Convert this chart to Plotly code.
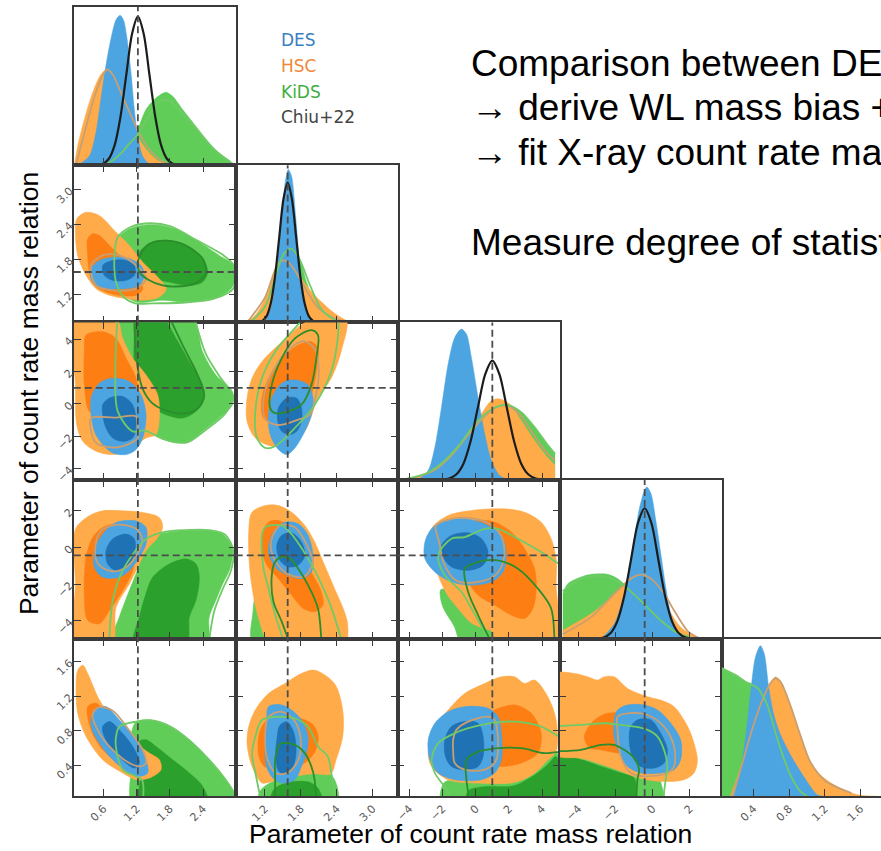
import plotly.graph_objects as go

# ---------------------------------------------------------------- layout grid
FIG_W, FIG_H = 881, 851
COL_EDGES = [71, 233.5, 396, 558.5, 721, 883.5]
ROW_EDGES = [7, 166, 324, 482, 642, 800]

# ---------------------------------------------------------------- parameters
PARAM_RANGES = [(0.06, 2.99), (0.71, 3.42), (-4.7, 5.05), (-5.0, 3.7), (0.04, 1.86)]
TICK_VALUES = [[0.6, 1.2, 1.8, 2.4], [1.2, 1.8, 2.4, 3.0], [-4, -2, 0, 2, 4], [-4, -2, 0, 2], [0.4, 0.8, 1.2, 1.6]]
TICK_TEXT = [["0.6", "1.2", "1.8", "2.4"], ["1.2", "1.8", "2.4", "3.0"], ["\u22124", "\u22122", "0", "2", "4"],
             ["\u22124", "\u22122", "0", "2"], ["0.4", "0.8", "1.2", "1.6"]]
TRUTH = [1.22, 1.58, 1.0, -0.43, None]

SERIES = ["DES", "HSC", "KiDS", "Chiu+22"]

# ---------------------------------------------------------------- 1D marginals (x, normalised density)
P1_KIDS = [(0.58, 0.0), (0.885, 0.057), (1.187, 0.204), (1.367, 0.352), (1.548, 0.425), (1.729, 0.461), (1.849, 0.436),
           (2.03, 0.352), (2.27, 0.246), (2.51, 0.141), (2.75, 0.057), (2.93, 0.015), (2.99, 0.0)]
P1_HSC = [(0.07, 0.0), (0.13, 0.12), (0.25, 0.288), (0.40, 0.457), (0.55, 0.573), (0.67, 0.608), (0.765, 0.583),
          (0.885, 0.457), (1.066, 0.288), (1.247, 0.162), (1.427, 0.078), (1.608, 0.025), (1.789, 0.0)]
P1_DES = [(0.13, 0.0), (0.34, 0.057), (0.46, 0.204), (0.55, 0.415), (0.64, 0.625), (0.73, 0.794), (0.825, 0.92),
          (0.897, 0.947), (0.958, 0.92), (1.018, 0.815), (1.096, 0.583), (1.156, 0.352), (1.217, 0.183),
          (1.307, 0.057), (1.427, 0.008), (1.548, 0.0)]
P1_HSC_LINE = [(0.1, 0.0), (0.25, 0.2), (0.45, 0.45), (0.6, 0.58), (0.67, 0.605), (0.77, 0.57), (0.9, 0.47),
               (1.05, 0.35), (1.22, 0.22), (1.4, 0.11), (1.6, 0.04), (1.8, 0.0)]
P1_KIDS_LINE = [(0.6, 0.0), (0.7, 0.015), (0.9, 0.07), (1.05, 0.13), (1.217, 0.194), (1.4, 0.3), (1.6, 0.4),
                (1.78, 0.41), (2.0, 0.34), (2.3, 0.22), (2.6, 0.1), (2.9, 0.02)]
P1_CHIU = [(0.3, 0.0), (0.51, 0.003), (0.59, 0.010), (0.695, 0.041), (0.8, 0.127), (0.905, 0.305), (1.01, 0.57),
           (1.115, 0.83), (1.22, 0.94), (1.325, 0.83), (1.43, 0.57), (1.535, 0.305), (1.64, 0.127),
           (1.745, 0.041), (1.85, 0.010), (1.93, 0.003), (2.2, 0.0)]

P2_KIDS = [(0.928, 0.0), (1.149, 0.059), (1.314, 0.195), (1.452, 0.363), (1.59, 0.447), (1.673, 0.468),
           (1.783, 0.405), (1.894, 0.258), (2.032, 0.132), (2.197, 0.048), (2.363, 0.006), (2.45, 0.0)]
P2_HSC = [(0.76, 0.0), (0.983, 0.027), (1.149, 0.111), (1.314, 0.279), (1.425, 0.374), (1.535, 0.405),
          (1.673, 0.374), (1.811, 0.279), (1.977, 0.195), (2.142, 0.132), (2.363, 0.059), (2.584, 0.01), (2.804, 0.0)]
P2_DES = [(1.204, 0.0), (1.314, 0.111), (1.397, 0.363), (1.48, 0.679), (1.546, 0.91), (1.59, 0.973),
          (1.645, 0.93), (1.712, 0.679), (1.783, 0.363), (1.866, 0.132), (1.949, 0.017), (2.032, 0.0)]
P2_HSC_LINE = [(0.9, 0.0), (1.2, 0.16), (1.4, 0.36), (1.5, 0.395), (1.6, 0.38), (1.72, 0.32), (1.9, 0.2),
               (2.1, 0.09), (2.4, 0.02), (2.7, 0.0)]
P2_KIDS_LINE = [(0.95, 0.0), (1.2, 0.1), (1.38, 0.3), (1.52, 0.44), (1.64, 0.47), (1.78, 0.4), (1.95, 0.24),
                (2.15, 0.08), (2.4, 0.01), (2.6, 0.0)]
P2_CHIU = [(0.9, 0.0), (1.08, 0.002), (1.154, 0.01), (1.225, 0.039), (1.296, 0.12), (1.367, 0.289), (1.438, 0.54),
           (1.509, 0.785), (1.58, 0.89), (1.651, 0.785), (1.722, 0.54), (1.793, 0.289), (1.864, 0.12),
           (1.935, 0.039), (2.006, 0.01), (2.08, 0.002), (2.4, 0.0)]

P3_KIDS = [(-4.46, 0.0), (-2.66, 0.049), (-1.66, 0.133), (-0.66, 0.26), (0.34, 0.397), (1.14, 0.461), (1.94, 0.478),
           (2.74, 0.429), (3.54, 0.334), (4.34, 0.218), (4.78, 0.165)]
P3_HSC = [(-4.46, 0.0), (-2.66, 0.038), (-1.66, 0.123), (-0.66, 0.249), (0.34, 0.419), (0.94, 0.503), (1.44, 0.514),
          (2.04, 0.482), (2.74, 0.376), (3.54, 0.249), (4.14, 0.165), (4.78, 0.09)]
P3_DES = [(-3.46, 0.0), (-2.86, 0.059), (-2.46, 0.207), (-2.06, 0.461), (-1.66, 0.736), (-1.26, 0.905),
          (-0.86, 0.958), (-0.56, 0.926), (-0.26, 0.778), (0.14, 0.524), (0.54, 0.292), (0.94, 0.123),
          (1.44, 0.027), (1.94, 0.0)]
P3_HSC_LINE = [(-4.46, 0.0), (-3.5, 0.02), (-2.5, 0.06), (-1.5, 0.15), (-0.5, 0.28), (0.5, 0.4), (1.2, 0.46),
               (1.9, 0.47), (2.6, 0.42), (3.4, 0.3), (4.2, 0.18), (4.78, 0.12)]
P3_KIDS_LINE = [(-4.46, 0.0), (-3.0, 0.04), (-2.0, 0.11), (-1.0, 0.22), (0.0, 0.36), (1.0, 0.45), (1.9, 0.475),
                (2.74, 0.43), (3.54, 0.335), (4.34, 0.22), (4.78, 0.165)]
P3_CHIU = [(-4.0, 0.0), (-2.0, 0.002), (-1.61, 0.008), (-1.175, 0.033), (-0.74, 0.102), (-0.305, 0.246),
           (0.13, 0.459), (0.565, 0.668), (1.0, 0.757), (1.435, 0.668), (1.87, 0.459), (2.305, 0.246),
           (2.74, 0.102), (3.175, 0.033), (3.61, 0.008), (4.0, 0.002), (4.8, 0.0)]

P4_KIDS = [(-4.83, 0.284), (-4.56, 0.347), (-3.85, 0.389), (-3.31, 0.406), (-2.42, 0.406), (-1.89, 0.379),
           (-1.35, 0.326), (-0.64, 0.242), (0.256, 0.137), (1.15, 0.053), (1.86, 0.011), (2.2, 0.0)]
P4_HSC = [(-4.83, 0.053), (-4.21, 0.095), (-3.31, 0.158), (-2.42, 0.242), (-1.71, 0.326), (-0.99, 0.389),
          (-0.64, 0.40), (-0.28, 0.389), (0.256, 0.326), (0.79, 0.2), (1.51, 0.074), (2.22, 0.021), (2.93, 0.0)]
P4_DES = [(-2.78, 0.0), (-2.065, 0.095), (-1.53, 0.284), (-1.08, 0.558), (-0.73, 0.81), (-0.46, 0.926),
          (-0.316, 0.954), (-0.1, 0.916), (0.166, 0.747), (0.434, 0.537), (0.70, 0.326), (0.97, 0.158),
          (1.326, 0.042), (1.68, 0.0)]
P4_HSC_LINE = [(-4.83, 0.03), (-3.31, 0.137), (-2.06, 0.284), (-1.17, 0.379), (-0.64, 0.404), (-0.1, 0.379),
               (0.62, 0.284), (1.15, 0.179), (1.86, 0.053), (2.4, 0.01)]
P4_KIDS_LINE = [(-4.83, 0.3), (-4.0, 0.37), (-3.3, 0.395), (-2.42, 0.39), (-1.71, 0.35), (-1.0, 0.28),
                (-0.3, 0.2), (0.5, 0.11), (1.3, 0.04), (2.0, 0.01)]
P4_CHIU = [(-4.8, 0.0), (-3.03, 0.002), (-2.635, 0.009), (-2.268, 0.036), (-1.9, 0.111), (-1.533, 0.267),
           (-1.165, 0.498), (-0.798, 0.725), (-0.43, 0.821), (-0.062, 0.725), (0.305, 0.498), (0.673, 0.267),
           (1.04, 0.111), (1.408, 0.036), (1.775, 0.009), (2.17, 0.002), (3.5, 0.0)]

P5_KIDS = [(0.045, 0.819), (0.178, 0.777), (0.29, 0.734), (0.383, 0.713), (0.477, 0.649), (0.589, 0.50),
           (0.70, 0.287), (0.812, 0.138), (0.924, 0.053), (1.036, 0.011), (1.111, 0.0)]
P5_HSC = [(0.14, 0.0), (0.253, 0.181), (0.365, 0.394), (0.477, 0.585), (0.589, 0.713), (0.645, 0.76), (0.70, 0.734),
          (0.812, 0.585), (0.924, 0.394), (1.036, 0.223), (1.148, 0.138), (1.297, 0.074), (1.447, 0.032),
          (1.596, 0.006), (1.782, 0.0)]
P5_DES = [(0.178, 0.0), (0.253, 0.16), (0.309, 0.372), (0.365, 0.649), (0.42, 0.883), (0.477, 0.957),
          (0.521, 0.904), (0.57, 0.691), (0.626, 0.521), (0.70, 0.394), (0.812, 0.266), (0.924, 0.16),
          (1.036, 0.064), (1.111, 0.011), (1.167, 0.0)]
P5_HSC_LINE = [(0.16, 0.0), (0.253, 0.17), (0.365, 0.39), (0.477, 0.58), (0.59, 0.72), (0.64, 0.75), (0.7, 0.73),
               (0.812, 0.58), (0.924, 0.39), (1.036, 0.22), (1.2, 0.1), (1.5, 0.02)]
P5_KIDS_LINE = [(0.05, 0.81), (0.2, 0.77), (0.33, 0.72), (0.44, 0.69), (0.55, 0.585), (0.663, 0.372),
                (0.74, 0.24), (0.812, 0.138), (0.924, 0.032), (1.0, 0.0)]

# ---------------------------------------------------------------- 2D contours (outer = 95%, inner = 68%)
# row 2 / col 1
C21_KIDS_OUT = [(0.855, 2.151), (1.066, 2.322), (1.367, 2.391), (1.668, 2.379), (1.97, 2.294), (2.331, 2.093),
                (2.692, 1.865), (2.946, 1.693), (2.946, 1.35), (2.753, 1.179), (2.391, 1.093), (2.03, 1.064),
                (1.668, 1.093), (1.187, 1.064), (0.946, 1.236), (0.825, 1.693)]
C21_KIDS_IN = [(1.247, 1.922), (1.488, 2.093), (1.789, 2.122), (2.09, 2.036), (2.391, 1.808), (2.482, 1.579),
               (2.391, 1.407), (2.15, 1.35), (1.789, 1.407), (1.548, 1.465), (1.307, 1.579), (1.217, 1.75)]
C21_HSC_OUT = [(0.09, 2.265), (0.114, 2.494), (0.283, 2.608), (0.524, 2.551), (0.825, 2.265), (1.066, 2.036),
               (1.307, 1.75), (1.548, 1.522), (1.729, 1.293), (1.608, 1.15), (1.307, 1.093), (1.006, 1.122),
               (0.705, 1.179), (0.464, 1.293), (0.283, 1.522), (0.132, 1.865)]
C21_HSC_IN = [(0.313, 2.151), (0.403, 2.237), (0.524, 2.208), (0.705, 2.036), (0.946, 1.808), (1.187, 1.522),
              (1.307, 1.293), (1.187, 1.179), (0.885, 1.179), (0.644, 1.236), (0.433, 1.35), (0.343, 1.579),
              (0.313, 1.865)]
C21_DES_OUT = [(0.373, 1.636), (0.524, 1.779), (0.765, 1.836), (1.066, 1.808), (1.277, 1.693), (1.337, 1.522),
               (1.247, 1.35), (1.006, 1.293), (0.705, 1.293), (0.464, 1.35), (0.373, 1.465)]
C21_DES_IN = [(0.584, 1.693), (0.765, 1.779), (1.006, 1.779), (1.156, 1.693), (1.156, 1.522), (1.006, 1.436),
              (0.765, 1.436), (0.614, 1.522)]
C21_HSC_LINE = [(0.373, 1.693), (0.584, 1.865), (0.885, 1.865), (1.187, 1.693), (1.367, 1.465), (1.187, 1.293),
                (0.765, 1.264), (0.464, 1.35)]
C21_KIDS_LINE_OUT = [(0.855, 2.18), (1.1, 2.36), (1.45, 2.42), (1.8, 2.37), (2.3, 2.12), (2.75, 1.88), (2.95, 1.7),
                     (2.95, 1.3), (2.6, 1.12), (2.0, 1.05), (1.5, 1.04), (1.187, 1.036), (0.96, 1.15),
                     (0.825, 1.407), (0.795, 1.808)]
C21_KIDS_LINE_IN = [(1.217, 1.75), (1.4, 2.05), (1.75, 2.12), (2.1, 2.03), (2.4, 1.8), (2.45, 1.55), (2.25, 1.38),
                    (1.9, 1.33), (1.668, 1.35), (1.4, 1.45), (1.25, 1.58)]

# row 3 / col 1
C31_KIDS_OUT = [(0.855, 5.3), (2.2, 5.3), (2.39, 3.24), (2.63, 1.8), (2.93, 0.77), (2.93, -0.05), (2.69, -0.88),
                (2.39, -1.7), (2.15, -2.32), (1.91, -2.42), (1.608, -2.1), (1.37, -1.6), (1.1, -0.5), (0.9, 1.5),
                (0.82, 4.0)]
C31_KIDS_IN = [(1.187, 5.3), (1.668, 5.3), (1.91, 4.06), (2.15, 2.62), (2.391, 1.18), (2.42, 0.36), (2.27, -0.46),
               (2.03, -0.876), (1.729, -0.67), (1.427, -0.05), (1.247, 0.77), (1.156, 2.21), (1.156, 4.06)]
C31_HSC_OUT = [(0.09, 5.3), (0.825, 5.3), (0.946, 4.06), (1.126, 2.83), (1.367, 1.8), (1.578, 0.564),
               (1.608, -0.876), (1.548, -1.9), (1.367, -2.11), (1.187, -2.52), (1.006, -2.93), (0.765, -3.14),
               (0.464, -2.93), (0.223, -2.32), (0.114, -1.29), (0.09, 1.18)]
C31_HSC_IN = [(0.283, 4.27), (0.584, 4.47), (0.825, 4.06), (1.006, 2.83), (1.187, 1.59), (1.217, 0.36),
              (1.126, -0.876), (0.885, -0.9), (0.584, -0.9), (0.343, -0.46), (0.253, 1.18), (0.253, 3.24)]
C31_DES_OUT = [(0.373, 0.36), (0.524, 1.285), (0.765, 1.59), (1.066, 1.387), (1.277, 0.564), (1.367, -0.67),
               (1.307, -2.11), (1.187, -2.83), (1.006, -3.14), (0.765, -3.04), (0.584, -2.52), (0.433, -1.7)]
C31_DES_IN = [(0.584, -0.053), (0.705, 0.36), (0.946, 0.462), (1.126, -0.053), (1.187, -1.29), (1.126, -2.11),
              (0.946, -2.32), (0.765, -2.11), (0.644, -1.49), (0.584, -0.67)]
C31_HSC_LINE = [(0.373, -0.876), (0.8, -0.85), (1.187, -0.77), (1.217, -1.4), (1.217, -2.11), (0.855, -2.69),
                (0.464, -2.42), (0.373, -1.7)]
C31_KIDS_LINE_OUT = [(0.85, 5.3), (0.813, 2.21), (0.855, -0.46), (1.126, -1.7), (1.35, -1.65), (1.7, -2.2),
                     (2.1, -2.4), (2.45, -1.6), (2.8, -0.6), (2.95, 0.4), (2.7, 1.7), (2.45, 3.1), (2.25, 5.3)]
C31_KIDS_LINE_IN = [(1.16, 5.3), (1.187, 3.0), (1.3, 1.0), (1.48, 0.05), (1.73, -0.4), (2.03, -0.6), (2.3, -0.3),
                    (2.42, 0.5), (2.3, 1.8), (2.05, 3.5), (1.8, 5.3)]

# row 4 / col 1
C41_KIDS_OUT = [(1.307, 0.37), (1.608, 0.73), (2.03, 0.91), (2.51, 0.91), (2.753, 0.73), (2.93, 0.0), (2.93, -0.54),
                (2.873, -1.26), (2.753, -1.99), (2.63, -2.89), (2.51, -3.8), (2.45, -5.3), (0.75, -5.3),
                (0.885, -3.8), (1.066, -2.35), (1.247, -0.9)]
C41_KIDS_IN = [(1.488, -1.63), (1.789, -0.9), (2.09, -0.63), (2.27, -0.9), (2.331, -1.63), (2.27, -2.89),
               (2.15, -3.8), (2.09, -5.3), (1.15, -5.3), (1.247, -3.8), (1.367, -2.53)]
C41_HSC_OUT = [(0.09, 1.0), (0.343, 1.73), (0.584, 2.0), (0.946, 2.0), (1.307, 1.91), (1.608, 1.63), (1.668, 1.09),
               (1.578, 0.55), (1.367, -0.18), (1.247, -0.9), (1.066, -1.99), (0.825, -3.26), (0.75, -5.3),
               (0.09, -5.3), (0.09, -2.0)]
C41_HSC_IN = [(0.283, -0.54), (0.403, 0.55), (0.584, 1.09), (0.825, 1.27), (1.066, 0.91), (1.187, 0.19),
              (1.126, -1.26), (0.946, -2.35), (0.705, -3.44), (0.524, -4.16), (0.313, -3.98), (0.253, -2.71)]
C41_DES_OUT = [(0.433, -0.18), (0.584, 0.73), (0.825, 1.36), (1.187, 1.45), (1.367, 1.09), (1.367, 0.19),
               (1.247, -0.54), (1.066, -1.26), (0.885, -1.63), (0.584, -1.63), (0.433, -1.08)]
C41_DES_IN = [(0.644, -0.18), (0.765, 0.46), (1.006, 0.73), (1.156, 0.46), (1.156, -0.36), (1.006, -1.08),
              (0.825, -1.26), (0.674, -0.9)]
C41_HSC_LINE = [(0.45, 0.0), (0.55, 0.9), (0.85, 1.25), (1.2, 1.0), (1.3, 0.4), (1.2, -0.4), (1.0, -1.1),
                (0.75, -1.3), (0.5, -0.9)]
C41_KIDS_LINE_OUT = [(0.70, -5.3), (0.705, -4.89), (0.765, -2.89), (0.946, -1.26), (1.367, 0.46), (1.7, 0.85),
                     (2.1, 0.95), (2.5, 0.95), (2.8, 0.7), (2.95, -0.2), (2.9, -1.3), (2.75, -2.3), (2.6, -3.5),
                     (2.5, -5.3)]

# row 5 / col 1
C51_KIDS_OUT = [(1.1, 0.75), (1.187, 0.9), (1.427, 0.923), (1.789, 0.846), (2.15, 0.693), (2.51, 0.462),
                (2.813, 0.232), (2.963, 0.078), (2.97, -0.1), (1.15, -0.1), (1.1, 0.4)]
C51_KIDS_IN = [(1.247, 0.673), (1.367, 0.693), (1.548, 0.616), (1.849, 0.462), (2.15, 0.309), (2.391, 0.155),
               (2.5, -0.1), (1.3, -0.1), (1.277, 0.385)]
C51_HSC_OUT = [(0.132, 1.499), (0.223, 1.557), (0.313, 1.46), (0.524, 1.153), (0.825, 0.885), (1.187, 0.654),
               (1.427, 0.539), (1.608, 0.462), (1.638, 0.347), (1.427, 0.251), (1.187, 0.232), (0.946, 0.309),
               (0.584, 0.462), (0.283, 0.731), (0.132, 1.0), (0.102, 1.307)]
C51_HSC_IN = [(0.313, 1.077), (0.464, 1.115), (0.705, 0.961), (0.946, 0.808), (1.187, 0.616), (1.247, 0.462),
              (1.126, 0.385), (0.885, 0.424), (0.584, 0.577), (0.373, 0.808)]
C51_DES_OUT = [(0.373, 0.923), (0.464, 1.057), (0.644, 1.077), (0.885, 0.923), (1.187, 0.693), (1.367, 0.462),
               (1.397, 0.309), (1.247, 0.27), (1.066, 0.309), (0.765, 0.462), (0.524, 0.654), (0.391, 0.808)]
C51_DES_IN = [(0.584, 0.846), (0.705, 0.904), (0.885, 0.808), (1.126, 0.616), (1.247, 0.424), (1.156, 0.366),
              (1.006, 0.424), (0.765, 0.577), (0.614, 0.731)]
C51_HSC_LINE = [(0.4, 0.99), (0.52, 1.07), (0.765, 1.03), (1.066, 0.8), (1.307, 0.577), (1.367, 0.424),
                (1.247, 0.385), (1.066, 0.424), (0.765, 0.577), (0.524, 0.77)]
C51_KIDS_LINE_OUT = [(1.3, -0.1), (1.3, 0.22), (1.187, 0.27), (0.946, 0.347), (0.825, 0.6), (0.825, 0.731),
                     (0.885, 0.846), (1.187, 0.904), (1.45, 0.92), (1.8, 0.85), (2.15, 0.69), (2.5, 0.47),
                     (2.8, 0.24), (2.96, 0.08), (3.1, -0.1)]

# row 3 / col 2
C32_HSC_OUT = [(2.1, 5.3), (2.556, 5.3), (2.473, 3.24), (2.308, 1.59), (2.087, 0.36), (1.866, -1.7), (1.59, -2.52),
               (1.314, -2.62), (1.038, -2.11), (0.9, -1.08), (0.9, 0.36), (0.983, 1.59), (1.148, 2.62),
               (1.425, 3.65), (1.85, 5.0)]
C32_HSC_IN = [(1.149, 0.36), (1.259, 1.59), (1.48, 2.83), (1.756, 3.65), (1.977, 3.86), (2.087, 3.44), (2.059, 2.0),
              (1.977, 0.564), (1.866, -0.46), (1.701, -1.29), (1.425, -1.29), (1.176, -0.876)]
C32_DES_OUT = [(1.314, 0.36), (1.48, 1.285), (1.701, 1.49), (1.921, 1.18), (2.004, 0.36), (1.977, -0.67),
               (1.866, -1.7), (1.701, -2.73), (1.563, -3.14), (1.425, -2.83), (1.287, -1.9), (1.259, -0.67)]
C32_DES_IN = [(1.425, -0.26), (1.563, 0.36), (1.728, 0.36), (1.811, -0.26), (1.811, -1.08), (1.728, -1.7),
              (1.618, -1.9), (1.48, -1.7), (1.414, -1.08)]
C32_HSC_LINE = [(1.2, -0.9), (1.37, -1.29), (1.535, -1.25), (1.756, -0.98), (1.95, -0.67), (2.05, 0.5),
                (2.1, 2.0), (2.05, 3.3), (1.85, 3.9), (1.55, 3.2), (1.3, 1.8), (1.18, 0.4)]
C32_KIDS_LINE_OUT = [(1.85, 5.3), (1.645, 4.47), (1.369, 3.24), (1.149, 1.59), (1.038, -0.46), (1.066, -2.11),
                     (1.204, -2.73), (1.369, -2.62), (1.701, -1.49), (2.032, -0.05), (2.308, 2.0), (2.418, 4.06),
                     (2.43, 5.3)]
C32_KIDS_LINE_IN = [(1.287, -0.26), (1.314, 1.18), (1.48, 2.83), (1.701, 4.06), (1.977, 4.58), (2.087, 4.27),
                    (2.059, 2.83), (1.977, 1.18), (1.811, -0.05), (1.59, -0.46), (1.369, -0.57)]

# row 4 / col 2
C42_KIDS_OUT = [(1.04, -2.6), (1.15, -2.0), (1.4, -2.2), (1.7, -3.5), (1.8, -5.3), (1.0, -5.3), (1.0, -3.5)]
C42_HSC_OUT = [(0.983, 1.92), (1.204, 2.29), (1.425, 2.29), (1.646, 1.92), (1.866, 1.2), (2.032, 0.29),
               (2.197, -0.97), (2.363, -2.24), (2.529, -3.51), (2.584, -4.23), (2.53, -5.3), (1.3, -5.3),
               (1.094, -3.87), (0.956, -1.52), (0.928, 0.84)]
C42_HSC_IN = [(1.149, 0.66), (1.259, 1.38), (1.425, 1.47), (1.646, 1.02), (1.811, -0.07), (1.977, -1.34),
              (2.142, -2.42), (2.17, -3.15), (2.032, -3.51), (1.839, -3.33), (1.646, -2.6), (1.425, -1.7),
              (1.204, -0.79)]
C42_DES_OUT = [(1.259, -0.25), (1.342, 0.84), (1.535, 1.38), (1.756, 1.29), (1.921, 0.66), (2.004, -0.43),
               (1.977, -1.34), (1.811, -1.7), (1.59, -1.52), (1.397, -1.16)]
C42_DES_IN = [(1.397, 0.11), (1.48, 0.66), (1.646, 0.8), (1.811, 0.29), (1.866, -0.43), (1.756, -0.97),
              (1.59, -1.06), (1.452, -0.7)]
C42_HSC_LINE = [(1.3, 0.3), (1.45, 1.2), (1.7, 1.1), (1.92, 0.0), (2.0, -0.8), (1.85, -1.6), (1.55, -1.4),
                (1.35, -0.6)]
C42_KIDS_LINE_OUT = [(1.535, -5.3), (1.37, -3.69), (1.259, -2.24), (1.176, -1.16), (1.149, 0.66), (1.204, 1.11),
                     (1.48, 1.2), (1.59, 0.93), (1.921, -0.61), (2.252, -2.79), (2.473, -4.96), (2.5, -5.3)]
C42_KIDS_LINE_IN = [(1.618, -5.3), (1.48, -4.05), (1.342, -2.97), (1.314, -1.52), (1.369, -0.79), (1.48, -0.52),
                    (1.618, -0.61), (1.756, -1.16), (1.921, -2.06), (2.087, -3.33), (2.142, -4.96), (2.15, -5.3)]

# row 4 / col 3
C43_KIDS_OUT = [(-2.1, -2.3), (-1.4, -2.4), (-0.6, -3.2), (0.2, -3.9), (0.9, -4.2), (1.4, -4.5), (1.6, -5.3),
                (-0.8, -5.3), (-1.3, -4.3), (-2.0, -3.2)]
C43_HSC_OUT = [(-2.66, 1.02), (-1.66, 1.74), (-0.26, 2.02), (1.74, 2.11), (2.94, 1.92), (3.94, 1.38), (4.54, 0.48),
               (4.84, -0.61), (4.84, -2.06), (4.84, -5.3), (1.2, -5.3), (1.0, -4.6), (0.4, -4.4), (-0.3, -4.1),
               (-1.0, -3.4), (-1.7, -2.6), (-2.26, -1.52), (-2.66, -0.25)]
C43_HSC_IN = [(-0.66, 1.2), (0.14, 1.47), (1.14, 1.38), (2.14, 0.84), (2.94, -0.07), (3.54, -1.16), (3.64, -2.24),
              (3.44, -3.33), (2.94, -3.87), (2.14, -3.69), (1.14, -3.15), (0.14, -2.6), (-0.66, -1.52),
              (-1.06, -0.07)]
C43_DES_OUT = [(-3.06, 0.29), (-2.66, 1.02), (-1.86, 1.47), (-0.66, 1.56), (0.54, 1.29), (1.54, 0.66), (1.84, -0.25),
               (1.64, -1.34), (0.94, -1.88), (-0.26, -2.06), (-1.46, -1.88), (-2.46, -1.34), (-3.06, -0.61)]
C43_DES_IN = [(-2.06, 0.11), (-1.46, 0.66), (-0.46, 0.8), (0.34, 0.48), (0.74, -0.25), (0.44, -0.97), (-0.46, -1.25),
              (-1.46, -1.06), (-1.96, -0.52)]
C43_HSC_LINE = [(-2.4, 1.2), (-1.5, 1.55), (-0.3, 1.6), (0.9, 1.25), (1.6, 0.5), (1.7, -0.6), (1.2, -1.5),
                (0.0, -1.9), (-1.2, -1.8), (-1.9, -0.9), (-2.2, 0.3)]
C43_KIDS_LINE_OUT = [(0.94, -5.3), (-0.26, -3.33), (-0.86, -2.42), (-1.86, -1.52), (-2.26, -0.43), (-1.46, 0.48),
                     (-0.66, 0.57), (0.54, 1.02), (1.34, 1.02), (2.54, 0.48), (3.94, -0.25), (4.84, -0.79),
                     (5.2, -1.0)]
C43_KIDS_LINE_IN = [(1.0, -5.3), (0.14, -3.69), (-0.46, -2.42), (-0.66, -1.16), (0.14, -0.79), (1.34, -0.7),
                    (2.54, -1.16), (3.74, -2.24), (4.54, -3.33), (4.74, -4.96), (4.76, -5.3)]

# row 5 / col 2
C52_KIDS_OUT = [(1.1, -0.1), (1.12, 0.1), (1.3, 0.2), (1.7, 0.28), (2.1, 0.35), (2.35, 0.25), (2.4, -0.1)]
C52_KIDS_IN = [(1.3, -0.1), (1.35, 0.12), (1.6, 0.2), (1.95, 0.2), (2.1, 0.12), (2.15, -0.1)]
C52_HSC_OUT = [(0.9, 0.65), (0.928, 0.846), (1.038, 1.038), (1.259, 1.23), (1.535, 1.345), (1.81, 1.46),
               (2.031, 1.499), (2.362, 1.345), (2.5, 1.038), (2.5, 0.731), (2.39, 0.462), (2.3, 0.3), (2.0, 0.3),
               (1.6, 0.26), (1.25, 0.2), (1.149, 0.193), (0.983, 0.385)]
C52_HSC_IN = [(1.1, 0.75), (1.2, 0.9), (1.45, 1.0), (1.75, 0.95), (2.0, 0.87), (2.09, 0.73), (2.03, 0.55),
              (1.85, 0.42), (1.5, 0.35), (1.2, 0.38), (1.1, 0.5)]
C52_DES_OUT = [(1.232, 0.846), (1.259, 1.077), (1.48, 1.096), (1.645, 1.038), (1.81, 0.923), (1.92, 0.731),
               (1.894, 0.539), (1.81, 0.385), (1.7, 0.232), (1.48, 0.193), (1.32, 0.26), (1.22, 0.4), (1.2, 0.6)]
C52_DES_IN = [(1.4, 0.7), (1.45, 0.86), (1.57, 0.9), (1.68, 0.78), (1.72, 0.55), (1.66, 0.37), (1.55, 0.3),
              (1.43, 0.33), (1.38, 0.5)]
C52_HSC_LINE = [(1.2, 0.7), (1.25, 0.95), (1.45, 1.02), (1.65, 0.95), (1.78, 0.78), (1.78, 0.5), (1.6, 0.32),
                (1.4, 0.3), (1.25, 0.45)]
C52_KIDS_LINE_OUT = [(1.16, -0.1), (1.04, 0.309), (0.983, 0.539), (1.04, 0.731), (1.149, 0.923), (1.48, 0.96),
                     (1.70, 0.942), (1.92, 0.846), (2.087, 0.616), (2.252, 0.5), (2.31, 0.31), (2.36, 0.078),
                     (2.37, -0.1)]
C52_KIDS_LINE_IN = [(1.37, -0.1), (1.37, 0.232), (1.37, 0.462), (1.425, 0.616), (1.48, 0.654), (1.70, 0.635),
                    (1.866, 0.539), (1.976, 0.385), (2.03, 0.232), (2.06, -0.1)]

# row 5 / col 3
C53_KIDS_OUT = [(-2.0, -0.1), (-1.9, 0.2), (-1.0, 0.22), (0.5, 0.2), (2.5, 0.25), (4.0, 0.45), (4.84, 0.55),
                (4.84, -0.1)]
C53_KIDS_IN = [(-0.5, -0.1), (-0.45, 0.1), (0.5, 0.15), (2.3, 0.16), (3.5, 0.28), (4.3, 0.4), (4.84, 0.5),
               (4.84, -0.1)]
C53_HSC_OUT = [(-2.56, 0.77), (-2.26, 0.885), (-1.66, 1.038), (-0.66, 1.23), (0.54, 1.345), (1.54, 1.422),
               (2.34, 1.422), (2.94, 1.345), (3.54, 1.384), (4.34, 1.192), (4.84, 0.923), (4.84, 0.56), (4.3, 0.45),
               (3.5, 0.3), (2.34, 0.2), (0.34, 0.19), (-1.66, 0.23), (-2.66, 0.385), (-2.86, 0.539)]
C53_HSC_IN = [(0.5, 0.95), (1.14, 1.038), (2.34, 1.096), (3.34, 1.0), (3.94, 0.769), (3.74, 0.539), (2.74, 0.424),
              (1.54, 0.385), (0.8, 0.42), (0.4, 0.6)]
C53_DES_OUT = [(-2.86, 0.692), (-2.46, 0.885), (-1.66, 1.019), (-0.66, 1.077), (0.74, 1.057), (1.34, 0.961),
               (1.54, 0.769), (1.54, 0.462), (1.14, 0.309), (0.34, 0.232), (-1.26, 0.232), (-2.26, 0.309),
               (-2.76, 0.462)]
C53_DES_IN = [(-1.86, 0.692), (-1.46, 0.846), (-0.66, 0.904), (0.14, 0.885), (0.44, 0.731), (0.44, 0.5),
              (0.14, 0.385), (-0.66, 0.347), (-1.46, 0.385), (-1.82, 0.5)]
C53_HSC_LINE = [(-1.36, 0.692), (-1.16, 0.808), (-0.46, 0.904), (0.74, 0.961), (1.14, 0.923), (1.24, 0.462),
                (0.54, 0.347), (-0.66, 0.347), (-1.26, 0.424), (-1.36, 0.577)]
C53_KIDS_LINE_OUT = [(-1.6, -0.1), (-1.66, 0.078), (-2.46, 0.309), (-2.66, 0.462), (-2.26, 0.654), (-1.26, 0.769),
                     (0.34, 0.865), (2.34, 0.904), (3.94, 0.846), (4.84, 0.75), (5.3, 0.7)]
C53_KIDS_LINE_IN = [(-0.46, -0.1), (-0.46, 0.078), (-0.56, 0.232), (-0.56, 0.462), (-0.06, 0.539), (1.34, 0.596),
                    (2.74, 0.596), (4.14, 0.539), (4.84, 0.55), (5.3, 0.55)]

# row 5 / col 4
C54_KIDS_OUT = [(-5.3, 0.55), (-3.0, 0.5), (-1.5, 0.4), (-0.5, 0.3), (0.3, 0.25), (0.5, 0.15), (0.55, -0.1),
                (-5.3, -0.1)]
C54_KIDS_IN = [(-5.3, 0.51), (-3.85, 0.462), (-2.78, 0.385), (-1.71, 0.309), (-0.99, 0.25), (-0.9, 0.078),
               (-0.88, -0.1), (-5.3, -0.1)]
C54_HSC_OUT = [(-5.3, 1.45), (-4.21, 1.461), (-3.49, 1.422), (-2.96, 1.384), (-2.6, 1.422), (-2.07, 1.422),
               (-1.35, 1.288), (-0.28, 1.192), (0.43, 1.153), (1.15, 1.077), (1.68, 0.923), (2.04, 0.769),
               (2.4, 0.462), (2.22, 0.309), (1.68, 0.232), (0.6, 0.21), (-0.3, 0.23), (-1.0, 0.27), (-1.71, 0.33),
               (-2.78, 0.41), (-3.85, 0.48), (-5.3, 0.53)]
C54_HSC_IN = [(-3.67, 0.73), (-3.14, 0.92), (-2.42, 1.0), (-1.6, 1.0), (-1.0, 0.96), (-0.7, 0.8), (-0.9, 0.58),
              (-1.71, 0.539), (-2.78, 0.577), (-3.4, 0.6)]
C54_DES_OUT = [(-2.07, 0.923), (-1.89, 1.038), (-1.35, 1.096), (-0.46, 1.096), (0.26, 1.038), (0.97, 0.885),
               (1.5, 0.692), (1.5, 0.462), (1.15, 0.347), (0.43, 0.309), (-0.64, 0.309), (-1.35, 0.385),
               (-1.8, 0.539), (-2.07, 0.731)]
C54_DES_IN = [(-1.17, 0.846), (-0.82, 0.923), (-0.1, 0.923), (0.43, 0.769), (0.79, 0.577), (0.61, 0.424),
              (0.08, 0.366), (-0.64, 0.385), (-1.08, 0.5), (-1.26, 0.692)]
C54_HSC_LINE = [(-1.89, 0.96), (-1.35, 1.0), (-0.28, 0.98), (0.61, 0.846), (1.15, 0.616), (1.15, 0.385),
                (0.79, 0.309), (-0.46, 0.27), (-1.17, 0.309), (-1.71, 0.5), (-1.89, 0.81)]
C54_KIDS_LINE_OUT = [(-5.3, 0.85), (-3.85, 0.865), (-2.6, 0.885), (-1.71, 0.865), (-0.99, 0.846), (-0.28, 0.808),
                     (0.26, 0.731), (0.61, 0.577), (0.79, 0.385), (0.7, 0.232), (0.61, 0.078), (0.6, -0.1)]
C54_KIDS_LINE_IN = [(-5.3, 0.56), (-3.85, 0.577), (-2.78, 0.635), (-2.07, 0.635), (-1.53, 0.577), (-0.99, 0.481),
                    (-0.73, 0.347), (-0.82, 0.232), (-0.9, -0.1)]

# ---------------------------------------------------------------- styling
DES_LIGHT, DES_DARK = "#4ca4e0", "#1f72b3"
HSC_LIGHT, HSC_DARK = "#ffab4a", "#fd7e12"
KIDS_LIGHT, KIDS_DARK = "#5fcd58", "#2ca02c"
HSC_LINE_COLOR = "#c99f72"
KIDS_LINE_LIGHT, KIDS_LINE_DARK = "#6fcb66", "#2b8d2b"
CHIU_COLOR = "#1c1c1c"
FRAME = "#3a3a3a"
LEGEND_COLORS = ["#3a80c0", "#f0883a", "#3fae3f", "#454545"]

MARGINALS = {
    0: dict(kids=P1_KIDS, hsc=P1_HSC, des=P1_DES, hsc_line=P1_HSC_LINE, kids_line=P1_KIDS_LINE, chiu=P1_CHIU),
    1: dict(kids=P2_KIDS, hsc=P2_HSC, des=P2_DES, hsc_line=P2_HSC_LINE, kids_line=P2_KIDS_LINE, chiu=P2_CHIU),
    2: dict(kids=P3_KIDS, hsc=P3_HSC, des=P3_DES, hsc_line=P3_HSC_LINE, kids_line=P3_KIDS_LINE, chiu=P3_CHIU),
    3: dict(kids=P4_KIDS, hsc=P4_HSC, des=P4_DES, hsc_line=P4_HSC_LINE, kids_line=P4_KIDS_LINE, chiu=P4_CHIU),
    4: dict(kids=P5_KIDS, hsc=P5_HSC, des=P5_DES, hsc_line=P5_HSC_LINE, kids_line=P5_KIDS_LINE, chiu=None),
}

CONTOURS = {
    (1, 0): dict(kids=[C21_KIDS_OUT, C21_KIDS_IN], hsc=[C21_HSC_OUT, C21_HSC_IN], des=[C21_DES_OUT, C21_DES_IN],
                 hsc_line=C21_HSC_LINE, kids_lines=[C21_KIDS_LINE_OUT, C21_KIDS_LINE_IN]),
    (2, 0): dict(kids=[C31_KIDS_OUT, C31_KIDS_IN], hsc=[C31_HSC_OUT, C31_HSC_IN], des=[C31_DES_OUT, C31_DES_IN],
                 hsc_line=C31_HSC_LINE, kids_lines=[C31_KIDS_LINE_OUT, C31_KIDS_LINE_IN]),
    (3, 0): dict(kids=[C41_KIDS_OUT, C41_KIDS_IN], hsc=[C41_HSC_OUT, C41_HSC_IN], des=[C41_DES_OUT, C41_DES_IN],
                 hsc_line=C41_HSC_LINE, kids_lines=[C41_KIDS_LINE_OUT, None]),
    (4, 0): dict(kids=[C51_KIDS_OUT, C51_KIDS_IN], hsc=[C51_HSC_OUT, C51_HSC_IN], des=[C51_DES_OUT, C51_DES_IN],
                 hsc_line=C51_HSC_LINE, kids_lines=[C51_KIDS_LINE_OUT, None]),
    (2, 1): dict(kids=[None, None], hsc=[C32_HSC_OUT, C32_HSC_IN], des=[C32_DES_OUT, C32_DES_IN],
                 hsc_line=C32_HSC_LINE, kids_lines=[C32_KIDS_LINE_OUT, C32_KIDS_LINE_IN]),
    (3, 1): dict(kids=[C42_KIDS_OUT, None], hsc=[C42_HSC_OUT, C42_HSC_IN], des=[C42_DES_OUT, C42_DES_IN],
                 hsc_line=C42_HSC_LINE, kids_lines=[C42_KIDS_LINE_OUT, C42_KIDS_LINE_IN]),
    (3, 2): dict(kids=[C43_KIDS_OUT, None], hsc=[C43_HSC_OUT, C43_HSC_IN], des=[C43_DES_OUT, C43_DES_IN],
                 hsc_line=C43_HSC_LINE, kids_lines=[C43_KIDS_LINE_OUT, C43_KIDS_LINE_IN]),
    (4, 1): dict(kids=[C52_KIDS_OUT, C52_KIDS_IN], hsc=[C52_HSC_OUT, C52_HSC_IN], des=[C52_DES_OUT, C52_DES_IN],
                 hsc_line=C52_HSC_LINE, kids_lines=[C52_KIDS_LINE_OUT, C52_KIDS_LINE_IN]),
    (4, 2): dict(kids=[C53_KIDS_OUT, C53_KIDS_IN], hsc=[C53_HSC_OUT, C53_HSC_IN], des=[C53_DES_OUT, C53_DES_IN],
                 hsc_line=C53_HSC_LINE, kids_lines=[C53_KIDS_LINE_OUT, C53_KIDS_LINE_IN]),
    (4, 3): dict(kids=[C54_KIDS_OUT, C54_KIDS_IN], hsc=[C54_HSC_OUT, C54_HSC_IN], des=[C54_DES_OUT, C54_DES_IN],
                 hsc_line=C54_HSC_LINE, kids_lines=[C54_KIDS_LINE_OUT, C54_KIDS_LINE_IN]),
}


# ---------------------------------------------------------------- helpers
def col_domain(c):
    x0, x1 = COL_EDGES[c], COL_EDGES[c + 1]
    lo, hi = PARAM_RANGES[c]
    if x1 > FIG_W:
        hi = lo + (hi - lo) * (FIG_W - x0) / (x1 - x0)
        x1 = FIG_W
    return [x0 / FIG_W, x1 / FIG_W], [lo, hi]


def row_domain(r):
    return [1 - ROW_EDGES[r + 1] / FIG_H, 1 - ROW_EDGES[r] / FIG_H]


def inside(pt, xr, yr):
    return xr[0] <= pt[0] <= xr[1] and yr[0] <= pt[1] <= yr[1]


PANELS = {}
k = 0
for r in range(5):
    for c in range(r + 1):
        k += 1
        PANELS[(r, c)] = k

fig = go.Figure()


def refs(k):
    return ("x" if k == 1 else f"x{k}"), ("y" if k == 1 else f"y{k}")


def add_region(pts, color, k):
    xa, ya = refs(k)
    xs = [p[0] for p in pts] + [pts[0][0]]
    ys = [p[1] for p in pts] + [pts[0][1]]
    fig.add_trace(go.Scatter(x=xs, y=ys, mode="lines", fill="toself", fillcolor=color,
                             line=dict(color=color, width=0.6, shape="spline", smoothing=0.9),
                             hoverinfo="skip", showlegend=False, xaxis=xa, yaxis=ya))


def add_contour_line(pts, color, k, xr, yr, width=1.8):
    xa, ya = refs(k)
    xs = [p[0] for p in pts]
    ys = [p[1] for p in pts]
    if inside(pts[0], xr, yr) and inside(pts[-1], xr, yr):
        xs.append(pts[0][0])
        ys.append(pts[0][1])
    fig.add_trace(go.Scatter(x=xs, y=ys, mode="lines",
                             line=dict(color=color, width=width, shape="spline", smoothing=0.9),
                             hoverinfo="skip", showlegend=False, xaxis=xa, yaxis=ya))


def add_marginal(pts, k, fill=None, line=None, width=1.8):
    xa, ya = refs(k)
    xs = [p[0] for p in pts]
    ys = [p[1] for p in pts]
    if fill:
        fig.add_trace(go.Scatter(x=xs, y=ys, mode="lines", fill="tozeroy", fillcolor=fill,
                                 line=dict(color=fill, width=0.5, shape="spline", smoothing=0.8),
                                 hoverinfo="skip", showlegend=False, xaxis=xa, yaxis=ya))
    else:
        fig.add_trace(go.Scatter(x=xs, y=ys, mode="lines",
                                 line=dict(color=line, width=width, shape="spline", smoothing=0.8),
                                 hoverinfo="skip", showlegend=False, xaxis=xa, yaxis=ya))


# ---------------------------------------------------------------- traces
for (r, c), k in PANELS.items():
    xdom, xr = col_domain(c)
    if r == c:
        m = MARGINALS[c]
        add_marginal(m["kids"], k, fill=KIDS_LIGHT)
        add_marginal(m["hsc"], k, fill=HSC_LIGHT)
        add_marginal(m["des"], k, fill=DES_LIGHT)
        add_marginal(m["hsc_line"], k, line=HSC_LINE_COLOR)
        add_marginal(m["kids_line"], k, line=KIDS_LINE_LIGHT)
        if m["chiu"] is not None:
            add_marginal(m["chiu"], k, line=CHIU_COLOR, width=2.2)
    else:
        spec = CONTOURS[(r, c)]
        yr = PARAM_RANGES[r]
        for pts, col in zip(spec["kids"], [KIDS_LIGHT, KIDS_DARK]):
            if pts:
                add_region(pts, col, k)
        for pts, col in zip(spec["hsc"], [HSC_LIGHT, HSC_DARK]):
            add_region(pts, col, k)
        for pts, col in zip(spec["des"], [DES_LIGHT, DES_DARK]):
            add_region(pts, col, k)
        add_contour_line(spec["hsc_line"], HSC_LINE_COLOR, k, xr, yr)
        for pts, col in zip(spec["kids_lines"], [KIDS_LINE_LIGHT, KIDS_LINE_DARK]):
            if pts:
                add_contour_line(pts, col, k, xr, yr)

# ---------------------------------------------------------------- axes
tick_font = dict(family="DejaVu Sans", size=11, color="#5a5a5a")
shapes = []
layout_axes = {}
for (r, c), k in PANELS.items():
    xdom, xr = col_domain(c)
    ydom = row_domain(r)
    xa, ya = refs(k)
    xname = "xaxis" if k == 1 else f"xaxis{k}"
    yname = "yaxis" if k == 1 else f"yaxis{k}"
    diag = r == c
    layout_axes[xname] = dict(
        domain=xdom, range=xr, anchor=ya, showgrid=False, zeroline=False,
        showline=True, linecolor=FRAME, linewidth=1.6, mirror=True if diag else "ticks",
        ticks="inside", ticklen=7, tickwidth=1.3, tickcolor=FRAME,
        tickvals=TICK_VALUES[c], ticktext=TICK_TEXT[c], showticklabels=(r == 4),
        tickangle=-45, tickfont=tick_font, fixedrange=True)
    if diag:
        layout_axes[yname] = dict(
            domain=ydom, range=[0, 1.0], anchor=xa, showgrid=False, zeroline=False,
            showline=True, linecolor=FRAME, linewidth=1.6, mirror=(c != 4),
            ticks="", showticklabels=False, fixedrange=True)
    else:
        layout_axes[yname] = dict(
            domain=ydom, range=list(PARAM_RANGES[r]), anchor=xa, showgrid=False, zeroline=False,
            showline=True, linecolor=FRAME, linewidth=1.6, mirror="ticks",
            ticks="inside", ticklen=7, tickwidth=1.3, tickcolor=FRAME,
            tickvals=TICK_VALUES[r], ticktext=TICK_TEXT[r], showticklabels=(c == 0),
            tickangle=-45, tickfont=tick_font, fixedrange=True)

    dash_line = dict(color="#4d4d4d", width=1.8, dash="7px,4px")
    if TRUTH[c] is not None:
        shapes.append(dict(type="line", xref=xa, yref=f"{ya} domain", x0=TRUTH[c], x1=TRUTH[c], y0=0, y1=1,
                           line=dash_line, layer="above"))
    if not diag and TRUTH[r] is not None:
        shapes.append(dict(type="line", xref=f"{xa} domain", yref=ya, x0=0, x1=1, y0=TRUTH[r], y1=TRUTH[r],
                           line=dash_line, layer="above"))


# ---------------------------------------------------------------- text
def px(x):
    return x / FIG_W


def py(y):
    return 1 - y / FIG_H


annotations = []
for i, (name, col) in enumerate(zip(SERIES, LEGEND_COLORS)):
    annotations.append(dict(text=name, x=px(277), y=py(40 + 26 * i), xref="paper", yref="paper",
                            xanchor="left", yanchor="middle", showarrow=False,
                            font=dict(family="DejaVu Sans", size=17, color=col)))

AXIS_TITLE = "Parameter of count rate mass relation"
annotations.append(dict(text=AXIS_TITLE, x=px(469), y=py(838), xref="paper", yref="paper",
                        xanchor="center", yanchor="middle", showarrow=False,
                        font=dict(family="Liberation Sans, Arial", size=26.5, color="#000000")))
annotations.append(dict(text=AXIS_TITLE, x=px(26), y=py(395), xref="paper", yref="paper",
                        xanchor="center", yanchor="middle", showarrow=False, textangle=-90,
                        font=dict(family="Liberation Sans, Arial", size=26.5, color="#000000")))

SLIDE_LINES = [
    ("Comparison between DES, HSC and KiDS", 64),
    ("\u2192 derive WL mass bias + scatter", 108),
    ("\u2192 fit X-ray count rate mass relation", 153),
    ("Measure degree of statistical consistency", 244),
]
for text, yc in SLIDE_LINES:
    annotations.append(dict(text=text, x=px(468), y=py(yc), xref="paper", yref="paper",
                            xanchor="left", yanchor="middle", showarrow=False,
                            font=dict(family="Liberation Sans, Arial", size=37, color="#000000")))

fig.update_layout(
    width=FIG_W, height=FIG_H, margin=dict(l=0, r=0, t=0, b=0),
    paper_bgcolor="white", plot_bgcolor="rgba(0,0,0,0)",
    showlegend=False, shapes=shapes, annotations=annotations, **layout_axes)

fig.write_html("out.html")
